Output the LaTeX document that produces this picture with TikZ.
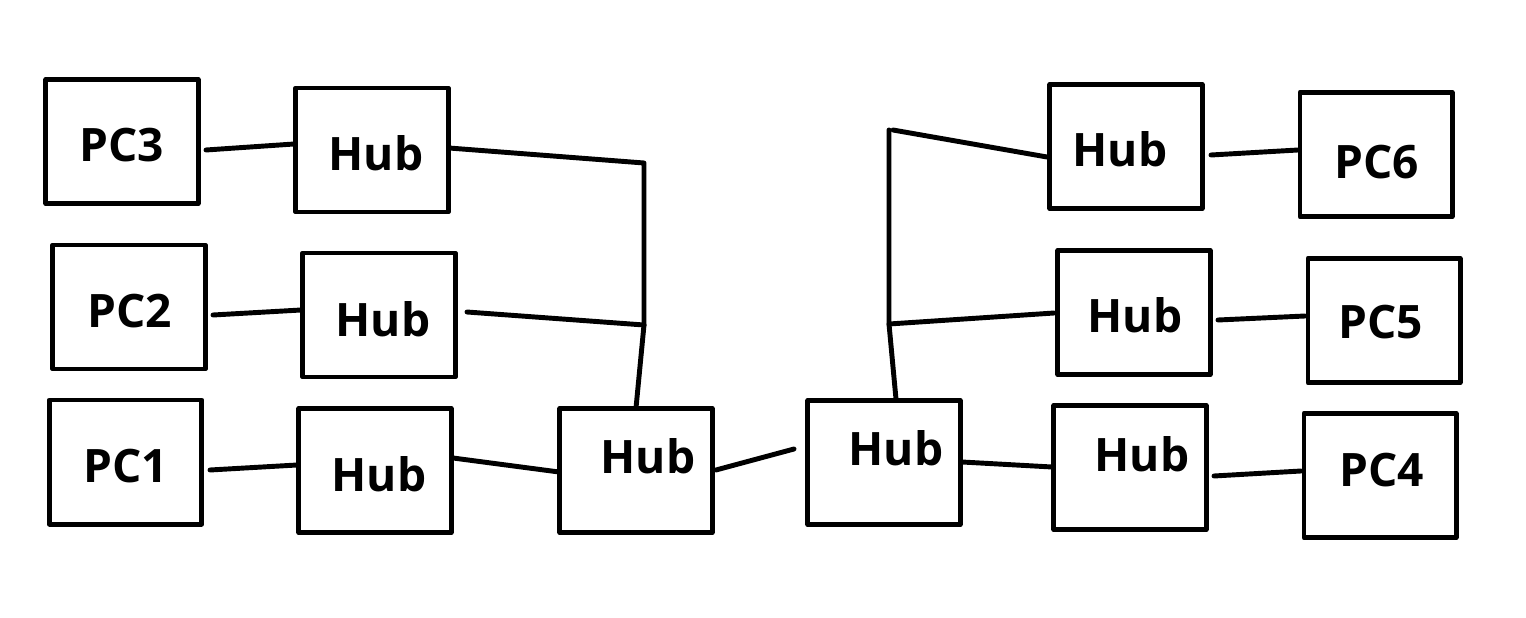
\documentclass[tikz,border=0pt]{standalone}
\usepackage{fontspec}
\setmainfont{Open Sans}
\begin{document}
\begin{tikzpicture}[x=0.01cm,y=-0.01cm,
  box/.style={draw,line width=1.4pt,line join=round,minimum width=1.52cm,minimum height=1.24cm,inner sep=0pt},
  lbl/.style={inner sep=0pt,font=\fontsize{13.1}{15}\selectfont\bfseries},
  wire/.style={line width=1.4pt,line cap=round,line join=round}]
\useasboundingbox (0,0) rectangle (1526,618);
% boxes
\node[box] (pc3) at (122,141.5) {};
\node[box] (hub3) at (372,150) {};
\node[box] (pc2) at (129,307) {};
\node[box] (hub2) at (379,315) {};
\node[box] (pc1) at (125.5,462) {};
\node[box] (hub1) at (375,470.5) {};
\node[box] (hubL) at (636,470.5) {};
\node[box] (hubR) at (884,462.5) {};
\node[box] (hub4) at (1130,467.5) {};
\node[box] (pc4) at (1380,475.5) {};
\node[box] (hub5) at (1134,312.5) {};
\node[box] (pc5) at (1384,320.5) {};
\node[box] (hub6) at (1126,146.5) {};
\node[box] (pc6) at (1376,154.5) {};
% labels
\node[lbl] at (122,145) {PC3};
\node[lbl] at (376,153) {Hub};
\node[lbl] at (130,311) {PC2};
\node[lbl] at (383,319) {Hub};
\node[lbl] at (126,466) {PC1};
\node[lbl] at (379,474) {Hub};
\node[lbl] at (648,456) {Hub};
\node[lbl] at (896,448) {Hub};
\node[lbl] at (1142,454) {Hub};
\node[lbl] at (1382,470) {PC4};
\node[lbl] at (1135,315) {Hub};
\node[lbl] at (1381,322) {PC5};
\node[lbl] at (1120,149) {Hub};
\node[lbl] at (1377,162) {PC6};
% connector end points
\coordinate (a1) at (206,150); \coordinate (a2) at (294,144);
\coordinate (b1) at (449,148); \coordinate (b2) at (644,163); \coordinate (jL) at (644,325);
\coordinate (c1) at (467,312);
\coordinate (d1) at (636,408);
\coordinate (e1) at (213,315); \coordinate (e2) at (301,310);
\coordinate (f1) at (210,470); \coordinate (f2) at (297,465);
\coordinate (g1) at (453,458); \coordinate (g2) at (559,472);
\coordinate (h1) at (716,470); \coordinate (h2) at (794,449);
\coordinate (i1) at (896,399); \coordinate (jR) at (889,324); \coordinate (i2) at (889,130);
\coordinate (i3) at (893,130); \coordinate (i4) at (1047,157);
\coordinate (k1) at (1054,313);
\coordinate (m1) at (962,462); \coordinate (m2) at (1052,467);
\coordinate (n1) at (1214,476); \coordinate (n2) at (1301,471);
\coordinate (o1) at (1218,320); \coordinate (o2) at (1305,316);
\coordinate (p1) at (1211,155); \coordinate (p2) at (1298,150);
% connectors
\draw[wire] (a1) -- (a2);
\draw[wire] (b1) -- (b2) -- (jL);
\draw[wire] (c1) -- (jL);
\draw[wire] (jL) -- (d1);
\draw[wire] (e1) -- (e2);
\draw[wire] (f1) -- (f2);
\draw[wire] (g1) -- (g2);
\draw[wire] (h1) -- (h2);
\draw[wire] (i1) -- (jR) -- (i2);
\draw[wire] (i3) -- (i4);
\draw[wire] (jR) -- (k1);
\draw[wire] (m1) -- (m2);
\draw[wire] (n1) -- (n2);
\draw[wire] (o1) -- (o2);
\draw[wire] (p1) -- (p2);
\end{tikzpicture}
\end{document}
